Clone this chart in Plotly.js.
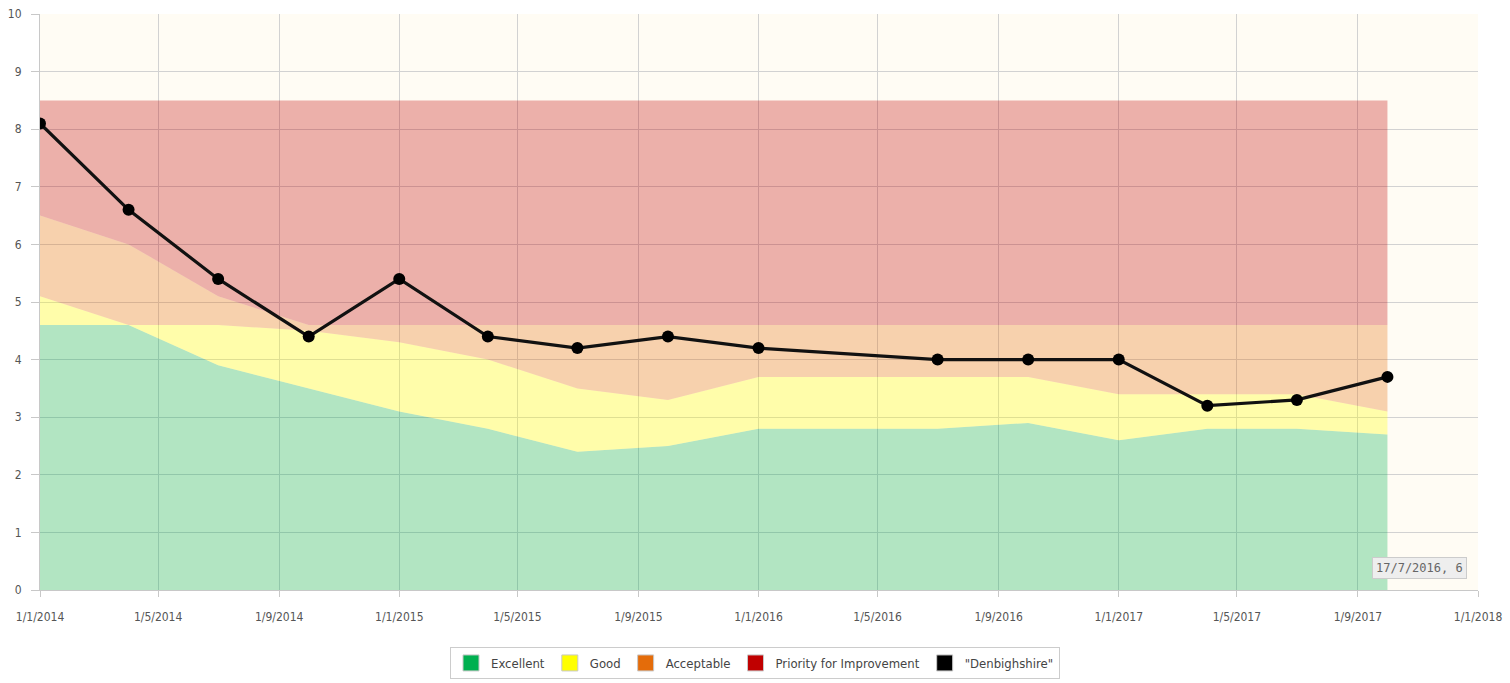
<!DOCTYPE html>
<html>
<head>
<meta charset="utf-8">
<script src="https://cdn.plot.ly/plotly-3.0.1.min.js"></script>
<style>html,body{margin:0;padding:0;background:#fff;}#chart{width:1510px;height:683px;}</style>
</head>
<body>
<div id="chart"></div>
<script>
const dates = ['2014-01-01','2014-04-01','2014-07-01','2014-10-01','2015-01-01','2015-04-01','2015-07-01','2015-10-01','2016-01-01','2016-07-01','2016-10-01','2017-01-01','2017-04-01','2017-07-01','2017-10-01'];
const denbighshire = [8.1,6.6,5.4,4.4,5.4,4.4,4.2,4.4,4.2,4.0,4.0,4.0,3.2,3.3,3.7];
const excellentMax = [4.6,4.6,3.9,3.5,3.1,2.8,2.4,2.5,2.8,2.8,2.9,2.6,2.8,2.8,2.7];
const goodMax = [5.1,4.6,4.6,4.5,4.3,4.0,3.5,3.3,3.7,3.7,3.7,3.4,3.4,3.4,3.1];
const acceptableMax = [6.5,6.0,5.1,4.6,4.6,4.6,4.6,4.6,4.6,4.6,4.6,4.6,4.6,4.6,4.6];
const priorityMax = [8.5,8.5,8.5,8.5,8.5,8.5,8.5,8.5,8.5,8.5,8.5,8.5,8.5,8.5,8.5];
const legendNames = ['Excellent','Good','Acceptable','Priority for Improvement','"Denbighshire"'];
const legendColors = ['#00b050','#ffff00','#e46c0a','#c00000','#000000'];
const bandFills = ['rgba(0,176,80,0.3)','rgba(255,255,0,0.3)','rgba(228,108,10,0.3)','rgba(192,0,0,0.3)'];
const bands = [excellentMax, goodMax, acceptableMax, priorityMax];

const traces = [];
bands.forEach((b,i)=>{
  traces.push({x:dates,y:b,type:'scatter',mode:'lines',line:{width:0},
    fill: i===0?'tozeroy':'tonexty', fillcolor:bandFills[i], showlegend:false, hoverinfo:'skip'});
});
traces.push({x:dates,y:denbighshire,type:'scatter',mode:'lines+markers',
  line:{color:'#111',width:3.2},marker:{color:'#000',size:12},showlegend:false});
legendNames.forEach((n,i)=>{
  traces.push({x:[null],y:[null],type:'scatter',mode:'markers',name:n,
    marker:{symbol:'square',size:16,color:legendColors[i],line:{color:'#c8c8c8',width:1}}});
});

const tickFont = {family:'DejaVu Sans Condensed, Liberation Sans Narrow, Arial, sans-serif',size:12,color:'#555'};
const layout = {
  width:1510,height:683,
  margin:{l:40,r:32,t:14,b:93},
  paper_bgcolor:'#ffffff',plot_bgcolor:'#fffcf4',
  font:{family:'DejaVu Sans, Arial, sans-serif',size:12,color:'#555'},
  xaxis:{type:'date',range:['2014-01-01','2018-01-01'],tick0:'2014-01-01',dtick:'M4',
    tickformat:'%-d/%-m/%Y',showgrid:true,gridcolor:'#d2d2d2',gridwidth:1,
    showline:true,linecolor:'#c8c8c8',ticks:'outside',ticklen:6,tickcolor:'#c8c8c8',
    ticklabelstandoff:10,automargin:false,
    zeroline:false,fixedrange:true,tickfont:tickFont},
  yaxis:{range:[0,10],dtick:1,showgrid:true,gridcolor:'#d2d2d2',gridwidth:1,
    showline:true,linecolor:'#c8c8c8',ticks:'outside',ticklen:8,tickcolor:'#c8c8c8',
    ticklabelstandoff:7,automargin:false,
    zeroline:false,fixedrange:true,tickfont:tickFont},
  showlegend:true,
  legend:{orientation:'h',traceorder:'normal',x:0.5,xref:'container',xanchor:'center',
    y:1-647/683,yref:'container',yanchor:'top',
    bordercolor:'#cccccc',borderwidth:1,bgcolor:'#ffffff',
    font:{family:'DejaVu Sans Condensed, DejaVu Sans, sans-serif',size:13,color:'#444'},
    itemclick:false,itemdoubleclick:false},
  annotations:[{xref:'paper',yref:'paper',x:(1419-40)/1438,y:(590-568)/576,xanchor:'center',yanchor:'middle',showarrow:false,
    text:'17/7/2016, 6',font:{family:'DejaVu Sans Mono, monospace',size:12,color:'#666'},
    bgcolor:'#eeeeee',bordercolor:'#cccccc',borderwidth:1,borderpad:3}]
};
Plotly.newPlot('chart',traces,layout,{displayModeBar:false,staticPlot:true});
</script>
</body>
</html>
